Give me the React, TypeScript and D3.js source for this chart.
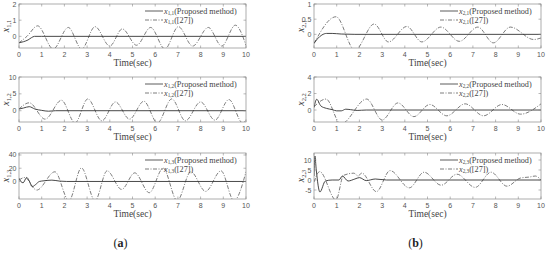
import React from 'react';
import * as d3 from 'd3';

// time axis shared by every panel
const timeTicks = [0, 1, 2, 3, 4, 5, 6, 7, 8, 9, 10];

// (a) x_{1,1}
const a1PropT = [0, 0.2, 0.4, 0.55, 0.68, 1, 10];
const a1PropV = [-0.4, -0.33, -0.22, -0.08, 0, 0, 0];
const a1RefT = [0, 0.35, 0.82, 1.51, 2.17, 2.76, 3.35, 4.0, 4.55, 5.18, 5.8, 6.43, 7.02, 7.65, 8.34, 8.93, 9.53, 10];
const a1RefV = [-0.4, 0, 0.65, -0.78, 0.55, -0.78, 0.6, -0.6, 0.46, -0.55, 0.55, -0.78, 0.6, -0.6, 0.55, -0.6, 0.69, -0.55];

// (a) x_{1,2}
const a2PropT = [0, 0.2, 0.45, 0.7, 1.0, 1.3, 1.6, 10];
const a2PropV = [0.5, 0.8, 1.2, 0.5, 0.1, -0.15, 0, 0];
const a2RefT = [0, 0.45, 1.15, 1.87, 2.47, 3.03, 3.65, 4.25, 4.87, 5.5, 6.1, 6.73, 7.33, 8.0, 8.63, 9.25, 9.85, 10];
const a2RefV = [0.5, 2.35, -2.5, 3.1, -3.6, 3.5, -3.0, 2.6, -2.5, 2.8, -3.6, 3.5, -3.0, 2.6, -2.8, 3.3, -3.6, -2.8];

// (a) x_{1,3}
const a3PropT = [0, 0.08, 0.18, 0.34, 0.45, 0.58, 0.72, 0.9, 1.1, 1.45, 1.8, 2.1, 10];
const a3PropV = [5, 0, -2, 6, 1, -8, -5, 0, 1, 2, 0.5, 0, 0];
const a3RefT = [0, 0.25, 0.78, 1.58, 2.2, 2.75, 3.35, 3.88, 4.52, 5.1, 5.74, 6.35, 6.97, 7.57, 8.22, 8.9, 9.47, 10];
const a3RefV = [2, 6, -13, 14.6, -29, 20.5, -29, 16, -12, 13, -17, 20, -29, 14.6, -15, 16, -29, 14.6];

// (b) x_{2,1}
const b1PropT = [0, 0.15, 0.35, 0.55, 0.8, 1.2, 1.8, 10];
const b1PropV = [-0.3, -0.15, -0.02, 0.03, 0.03, 0.01, 0, 0];
const b1RefT = [0, 0.97, 1.8, 2.65, 3.28, 4.09, 4.75, 5.59, 6.4, 7.22, 7.9, 8.65, 9.68, 10];
const b1RefV = [-0.3, 0.58, -0.52, 0.34, -0.25, 0.26, -0.25, 0.24, -0.23, 0.24, -0.28, 0.24, -0.17, -0.12];

// (b) x_{2,2}
const b2PropT = [0, 0.12, 0.3, 0.55, 0.8, 1.0, 1.2, 1.4, 1.6, 1.9, 2.3, 10];
const b2PropV = [0.3, 1.3, 0.5, 0.2, 0.05, -0.1, -0.1, 0.1, 0.05, -0.05, 0, 0];
const b2RefT = [0, 0.53, 1.18, 2.32, 3.0, 3.7, 4.4, 5.1, 5.85, 6.66, 7.47, 8.28, 9.1, 10];
const b2RefV = [0.4, 1.33, -1.7, 1.33, -1.2, 0.86, -0.8, 0.67, -0.7, 0.75, -0.7, 0.67, -0.5, 0.75];

// (b) x_{2,3}
const b3PropT = [0, 0.04, 0.1, 0.26, 0.5, 0.8, 1.1, 1.25, 1.5, 1.8, 2.0, 2.3, 2.7, 3.2, 10];
const b3PropV = [2, 12, 5, -6, -0.5, 0, 0, 2, -0.5, 0.5, 1.2, -0.3, 0.5, 0, 0];
const b3RefT = [0, 0.25, 0.97, 1.3, 1.75, 1.95, 2.1, 2.75, 3.35, 4.2, 4.85, 5.6, 6.3, 7.1, 7.8, 8.5, 9.1, 9.5, 9.75, 10];
const b3RefV = [-1, 4.2, -10, 2.3, 3.4, 2.0, 3.5, -5.8, 4.7, -3.9, 3.9, -2.6, 2.9, -3.7, 3.9, -3.1, 1, 1.5, 2, 0];

const legendProp = '(Proposed method)';
const legendRef = '([27])';

const zip = (t, v) => t.map((d, i) => [d, v[i]]);

const rows = [
  { top: 4, bottom: 48 },
  { top: 77, bottom: 122 },
  { top: 153, bottom: 199 },
];
const cols = [
  { left: 19, right: 246, cap: 'a' },
  { left: 314, right: 541, cap: 'b' },
];

const panels = [
  { col: 0, row: 0, sub: '1,1', domain: [-0.72, 2], yTicks: [0, 1, 2], prop: zip(a1PropT, a1PropV), ref: zip(a1RefT, a1RefV) },
  { col: 0, row: 1, sub: '1,2', domain: [-3.35, 10], yTicks: [0, 5, 10], prop: zip(a2PropT, a2PropV), ref: zip(a2RefT, a2RefV) },
  { col: 0, row: 2, sub: '1,3', domain: [-26.5, 43], yTicks: [0, 20, 40], prop: zip(a3PropT, a3PropV), ref: zip(a3RefT, a3RefV) },
  { col: 1, row: 0, sub: '2,1', domain: [-0.45, 1], yTicks: [0, 0.5, 1], prop: zip(b1PropT, b1PropV), ref: zip(b1RefT, b1RefV) },
  { col: 1, row: 1, sub: '2,2', domain: [-1.45, 4], yTicks: [0, 2, 4], prop: zip(b2PropT, b2PropV), ref: zip(b2RefT, b2RefV) },
  { col: 1, row: 2, sub: '2,3', domain: [-9.5, 13.5], yTicks: [-5, 0, 5, 10], prop: zip(b3PropT, b3PropV), ref: zip(b3RefT, b3RefV) },
];

const serif = '"Liberation Serif", "DejaVu Serif", serif';
const sans = '"Liberation Sans", Arial, sans-serif';
const axisColor = '#8a8a8a';
const tickLen = 2.5;

const Panel = ({ p, id }) => {
  const { left, right } = cols[p.col];
  const { top, bottom } = rows[p.row];
  const x = d3.scaleLinear().domain([0, 10]).range([left, right]);
  const y = d3.scaleLinear().domain(p.domain).range([bottom, top]);
  const line = d3
    .line()
    .x((d) => x(d[0]))
    .y((d) => y(d[1]))
    .curve(d3.curveMonotoneX);
  const legX = right - 101;

  return (
    <g>
      <defs>
        <clipPath id={id}>
          <rect x={left} y={top} width={right - left} height={bottom - top} />
        </clipPath>
      </defs>
      <rect x={left} y={top} width={right - left} height={bottom - top} fill="#fff" />
      <g clipPath={`url(#${id})`}>
        <path d={line(p.ref)} fill="none" stroke="#5a5a5a" strokeWidth={0.8} strokeDasharray="4,1.5,1,1.5" />
        <path d={line(p.prop)} fill="none" stroke="#333" strokeWidth={0.9} />
      </g>
      <rect x={left} y={top} width={right - left} height={bottom - top} fill="none" stroke={axisColor} strokeWidth={0.7} />
      {timeTicks.map((t) => (
        <g key={t}>
          <line x1={x(t)} x2={x(t)} y1={bottom} y2={bottom - tickLen} stroke={axisColor} strokeWidth={0.6} />
          <line x1={x(t)} x2={x(t)} y1={top} y2={top + tickLen} stroke={axisColor} strokeWidth={0.6} />
          <text x={x(t)} y={bottom + 8.5} fontSize={7} fontFamily={sans} fill="#555" textAnchor="middle">
            {t}
          </text>
        </g>
      ))}
      {p.yTicks.map((v) => (
        <g key={v}>
          <line x1={left} x2={left + tickLen} y1={y(v)} y2={y(v)} stroke={axisColor} strokeWidth={0.6} />
          <line x1={right} x2={right - tickLen} y1={y(v)} y2={y(v)} stroke={axisColor} strokeWidth={0.6} />
          <text x={left - 2.5} y={y(v) + 2.5} fontSize={7} fontFamily={sans} fill="#555" textAnchor="end">
            {v}
          </text>
        </g>
      ))}
      <text x={(left + right) / 2} y={bottom + 18} fontSize={9.5} fontFamily={serif} fill="#444" textAnchor="middle">
        Time(sec)
      </text>
      <text
        transform={`translate(${left - 10},${(top + bottom) / 2}) rotate(-90)`}
        fontSize={10}
        fontFamily={serif}
        fill="#444"
        textAnchor="middle"
      >
        <tspan fontStyle="italic">x</tspan>
        <tspan fontSize={6.5} dy={2}>{p.sub}</tspan>
      </text>
      {/* legend, no box */}
      <line x1={legX} x2={legX + 18} y1={top + 7} y2={top + 7} stroke="#333" strokeWidth={0.8} />
      <line x1={legX} x2={legX + 18} y1={top + 16} y2={top + 16} stroke="#5a5a5a" strokeWidth={0.8} strokeDasharray="4,1.5,1,1.5" />
      <text x={legX + 19} y={top + 9.8} fontSize={8.2} fontFamily={serif} fill="#444">
        <tspan fontStyle="italic">x</tspan>
        <tspan fontSize={5.2} dy={1.5}>{p.sub}</tspan>
        <tspan dy={-1.5}>{legendProp}</tspan>
      </text>
      <text x={legX + 19} y={top + 18.8} fontSize={8.2} fontFamily={serif} fill="#444">
        <tspan fontStyle="italic">x</tspan>
        <tspan fontSize={5.2} dy={1.5}>{p.sub}</tspan>
        <tspan dy={-1.5}>{legendRef}</tspan>
      </text>
    </g>
  );
};

export default function App() {
  return (
    <svg width={550} height={255} style={{ position: 'absolute', left: 0, top: 0, background: '#fff' }}>
      {panels.map((p, i) => (
        <Panel key={i} p={p} id={`clip${i}`} />
      ))}
      {cols.map((c) => (
        <text key={c.cap} x={(c.left + c.right) / 2 - 12} y={247} fontSize={12} fontFamily={serif} fill="#222" textAnchor="middle">
          (<tspan fontWeight="bold">{c.cap}</tspan>)
        </text>
      ))}
    </svg>
  );
}
